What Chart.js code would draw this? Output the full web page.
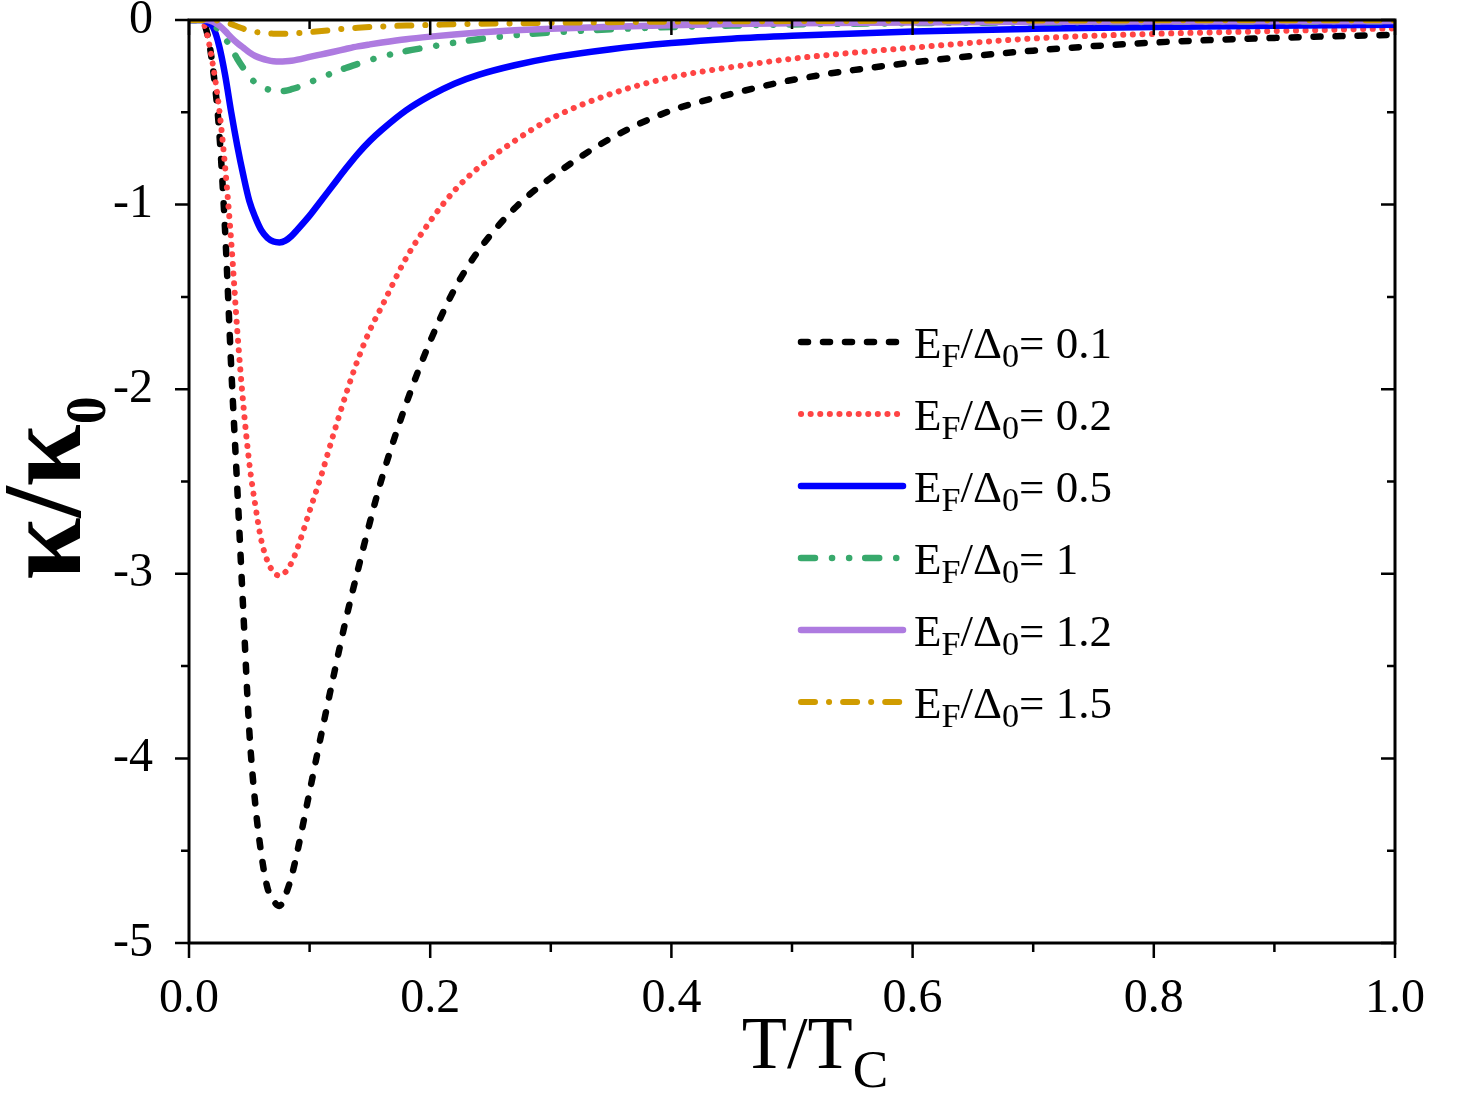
<!DOCTYPE html>
<html>
<head>
<meta charset="utf-8">
<script src="https://cdn.jsdelivr.net/npm/chart.js@4.4.1/dist/chart.umd.min.js"></script>
<style>
  html, body { margin: 0; padding: 0; background: #fff; }
  #wrap { width: 1478px; height: 1098px; }
</style>
</head>
<body>
<div id="wrap"><canvas id="chart" width="1478" height="1098"></canvas></div>
<script>
// T/Tc sample points shared by all curves
const T = [0, 0.01, 0.015, 0.02, 0.025, 0.03, 0.035, 0.04, 0.045, 0.05, 0.055, 0.06, 0.065, 0.07, 0.075,
    0.08, 0.085, 0.09, 0.1, 0.11, 0.12, 0.13, 0.14, 0.15, 0.16, 0.18, 0.2, 0.22, 0.24, 0.27, 0.3,
    0.35, 0.4, 0.45, 0.5, 0.6, 0.7, 0.8, 0.9, 1.0];

// kappa/kappa0 for each EF/Delta0
const kappa01 = [0, 0, -0.07, -0.27, -0.6, -1.15, -1.88, -2.53, -3.2, -3.85, -4.25, -4.52, -4.7, -4.77, -4.8,
    -4.74, -4.64, -4.5, -4.18, -3.86, -3.55, -3.25, -2.98, -2.72, -2.48, -2.08, -1.74, -1.46, -1.25, -1.02, -0.855,
    -0.64, -0.49, -0.4, -0.325, -0.23, -0.166, -0.122, -0.097, -0.08];
const kappa02 = [0, 0, -0.08, -0.25, -0.48, -0.8, -1.2, -1.68, -2.08, -2.4, -2.63, -2.82, -2.93, -2.99, -3.01,
    -2.99, -2.94, -2.86, -2.66, -2.46, -2.24, -2.03, -1.84, -1.68, -1.55, -1.29, -1.09, -0.925, -0.8, -0.655, -0.535,
    -0.4, -0.31, -0.255, -0.21, -0.15, -0.1, -0.075, -0.06, -0.045];
const kappa05 = [0, 0, -0.01, -0.04, -0.14, -0.3, -0.5, -0.68, -0.84, -0.98, -1.07, -1.14, -1.18, -1.2, -1.205,
    -1.195, -1.17, -1.135, -1.06, -0.975, -0.89, -0.805, -0.725, -0.655, -0.595, -0.49, -0.41, -0.345, -0.297, -0.245, -0.205,
    -0.158, -0.125, -0.101, -0.085, -0.062, -0.048, -0.038, -0.031, -0.026];
const kappa1 = [0, 0, 0, -0.02, -0.06, -0.1, -0.15, -0.21, -0.26, -0.305, -0.34, -0.36, -0.375, -0.382, -0.385,
    -0.383, -0.375, -0.365, -0.338, -0.31, -0.285, -0.26, -0.238, -0.217, -0.198, -0.168, -0.145, -0.123, -0.104, -0.082, -0.068,
    -0.05, -0.038, -0.03, -0.024, -0.017, -0.013, -0.01, -0.008, -0.007];
const kappa12 = [0, 0, 0, -0.01, -0.03, -0.06, -0.095, -0.125, -0.15, -0.175, -0.195, -0.208, -0.217, -0.223, -0.225,
    -0.224, -0.221, -0.215, -0.2, -0.186, -0.172, -0.157, -0.143, -0.132, -0.122, -0.104, -0.09, -0.078, -0.068, -0.056, -0.047,
    -0.036, -0.028, -0.022, -0.018, -0.013, -0.01, -0.008, -0.007, -0.006];
const kappa15 = [0, 0, 0, 0, -0.005, -0.012, -0.022, -0.035, -0.047, -0.057, -0.064, -0.069, -0.072, -0.074, -0.075,
    -0.074, -0.073, -0.071, -0.066, -0.06, -0.053, -0.047, -0.042, -0.038, -0.035, -0.03, -0.027, -0.023, -0.02, -0.018, -0.015,
    -0.012, -0.009, -0.007, -0.006, -0.004, -0.003, -0.002, -0.002, -0.002];

const efValues = ['0.1', '0.2', '0.5', '1', '1.2', '1.5'];
const xTicks = [0, 0.2, 0.4, 0.6, 0.8, 1.0];
const yTicks = [0, -1, -2, -3, -4, -5];

const series = [kappa01, kappa02, kappa05, kappa1, kappa12, kappa15];
const colors = ['#000000', '#ff4444', '#0000ff', '#38a96c', '#ae7be0', '#d09c00'];
const widths = [6.5, 6, 6.5, 6.5, 6.5, 6];
const dashes = [[7, 15], [0.1, 9.5], [], [14, 17, 0.1, 17, 0.1, 16], [], [14, 14, 0.1, 14]];

const FONT = 'Liberation Serif';

// draw text with subscript parts, returns end x
function drawParts(ctx, parts, x, y, size, opt) {
    const r = opt.ratio, off = opt.offset, w = opt.weight || '';
    parts.forEach(p => {
        const s = p.sub ? size * r : size;
        ctx.font = w + ' ' + s + 'px "' + FONT + '"';
        ctx.fillText(p.t, x, p.sub ? y + size * off : y);
        x += ctx.measureText(p.t).width;
    });
    return x;
}

function partsWidth(ctx, parts, size, opt) {
    let w = 0;
    parts.forEach(p => {
        ctx.font = (opt.weight || '') + ' ' + (p.sub ? size * opt.ratio : size) + 'px "' + FONT + '"';
        w += ctx.measureText(p.t).width;
    });
    return w;
}

// frame, ticks, titles and legend
const framePlugin = {
    id: 'framePlugin',
    afterDatasetsDraw(chart) {
        const {ctx, chartArea: a, scales} = chart;
        const xs = scales.x, ys = scales.y;
        ctx.save();
        ctx.strokeStyle = '#000';
        ctx.lineWidth = 2.5;
        ctx.setLineDash([]);
        ctx.lineCap = 'butt';
        ctx.beginPath();
        for (let i = 0; i <= 10; i++) {
            const px = xs.getPixelForValue(i / 10);
            const len = i % 2 === 0 ? 15 : 9;
            ctx.moveTo(px, a.bottom); ctx.lineTo(px, a.bottom + len);
            ctx.moveTo(px, a.top); ctx.lineTo(px, a.top + len);
        }
        for (let i = 0; i <= 10; i++) {
            const py = ys.getPixelForValue(-i / 2);
            const len = i % 2 === 0 ? 14 : 8;
            ctx.moveTo(a.left, py); ctx.lineTo(a.left - len, py);
            ctx.moveTo(a.right, py); ctx.lineTo(a.right - len, py);
        }
        ctx.stroke();
        ctx.lineWidth = 3;
        ctx.strokeRect(a.left, a.top, a.right - a.left, a.bottom - a.top);

        // axis titles
        ctx.fillStyle = '#000';
        ctx.textBaseline = 'alphabetic';
        ctx.textAlign = 'left';
        const xOpt = {ratio: 0.72, offset: 0.26};
        const xt = [{t: 'T/T'}, {t: 'C', sub: true}];
        const xw = partsWidth(ctx, xt, 74, xOpt);
        drawParts(ctx, xt, 815 - xw / 2, 1068, 74, xOpt);

        ctx.save();
        ctx.translate(80, 488);
        ctx.rotate(-Math.PI / 2);
        const yOpt = {ratio: 0.5, offset: 0.22, weight: 'bold'};
        const yt = [{t: 'κ/κ'}, {t: '0', sub: true}];
        const yw = partsWidth(ctx, yt, 112, yOpt);
        drawParts(ctx, yt, -yw / 2, 0, 112, yOpt);
        ctx.restore();

        // legend
        const lOpt = {ratio: 0.76, offset: 0.2};
        chart.data.datasets.forEach((ds, i) => {
            const cy = 342 + i * 72;
            ctx.save();
            ctx.strokeStyle = ds.borderColor;
            ctx.lineWidth = ds.borderWidth;
            ctx.lineCap = 'round';
            ctx.setLineDash(ds.borderDash);
            ctx.beginPath();
            ctx.moveTo(801, cy);
            ctx.lineTo(903, cy);
            ctx.stroke();
            ctx.restore();
            drawParts(ctx, [{t: 'E'}, {t: 'F', sub: true}, {t: '/Δ'}, {t: '0', sub: true}, {t: '= ' + efValues[i]}],
                914, cy + 16, 45, lOpt);
        });
        ctx.restore();
    }
};

const datasets = series.map((ys, i) => ({
    label: 'EF/Δ0= ' + efValues[i],
    data: T.map((t, j) => ({x: t, y: ys[j]})),
    borderColor: colors[i],
    borderWidth: widths[i],
    borderDash: dashes[i],
    borderCapStyle: 'round',
    borderJoinStyle: 'round',
    pointRadius: 0,
    fill: false,
    cubicInterpolationMode: 'monotone',
    order: series.length - i
}));

new Chart(document.getElementById('chart').getContext('2d'), {
    type: 'line',
    data: {datasets},
    options: {
        responsive: false,
        animation: false,
        layout: {padding: {top: 20, right: 83, left: 0, bottom: 0}},
        plugins: {legend: {display: false}, tooltip: {enabled: false}},
        scales: {
            x: {
                type: 'linear', min: 0, max: 1,
                grid: {display: false}, border: {display: false},
                afterBuildTicks: s => { s.ticks = xTicks.map(v => ({value: v})); },
                afterFit: s => { s.height = 155; s.paddingLeft = 0; s.paddingRight = 0; },
                ticks: {
                    padding: 20, color: '#000', maxRotation: 0,
                    font: {family: FONT, size: 48},
                    callback: v => v.toFixed(1)
                }
            },
            y: {
                type: 'linear', min: -5, max: 0,
                grid: {display: false}, border: {display: false},
                afterBuildTicks: s => { s.ticks = yTicks.map(v => ({value: v})); },
                afterFit: s => { s.width = 189; s.paddingTop = 0; s.paddingBottom = 0; },
                ticks: {
                    padding: 28, color: '#000',
                    font: {family: FONT, size: 48},
                    callback: v => String(v)
                }
            }
        }
    },
    plugins: [framePlugin]
});
</script>
</body>
</html>
